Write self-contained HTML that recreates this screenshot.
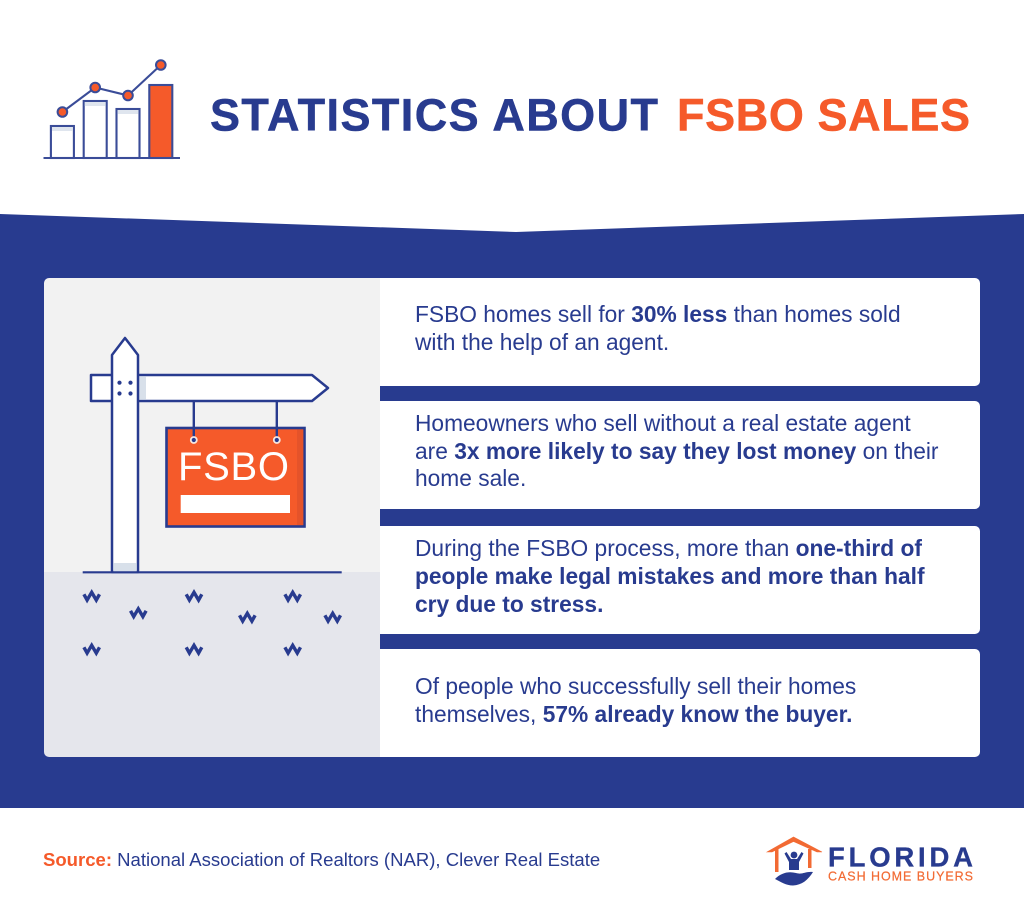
<!DOCTYPE html>
<html lang="en">
<head>
<meta charset="utf-8">
<title>Statistics About FSBO Sales</title>
<style>
html,body{margin:0;padding:0;background:#fff}
body{width:1024px;height:913px;overflow:hidden}
svg{display:block;font-family:"Liberation Sans",sans-serif}
.t{font-size:22.75px;fill:#283b8f}
.b{font-weight:700}
</style>
</head>
<body>
<svg id="root" width="1024" height="913" viewBox="0 0 1024 913" xmlns="http://www.w3.org/2000/svg">
  <rect width="1024" height="913" fill="#fff"/>
  <g id="icon"></g>
  <text x="210" y="130.5" font-size="45" font-weight="700" fill="#283b8f" stroke="#283b8f" stroke-width="0.5" textLength="448" lengthAdjust="spacing">STATISTICS ABOUT</text>
  <text x="677" y="130.5" font-size="45" font-weight="700" fill="#f55a2a" stroke="#f55a2a" stroke-width="0.5" textLength="293" lengthAdjust="spacing">FSBO SALES</text>

  <polygon points="0,214 516,232 1024,214 1024,808 0,808" fill="#283b8f"/>

  <path d="M380 278H49a5 5 0 0 0-5 5V572H380Z" fill="#f2f2f2"/>
  <path d="M44 572H380V757H49a5 5 0 0 1-5-5Z" fill="#e5e6ec"/>

  <g>
    <path d="M91 375H312L328 388L312 401H91Z" fill="#fff" stroke="#283b8f" stroke-width="2.5" stroke-linejoin="round"/>
    <rect x="139" y="376.3" width="7" height="23.4" fill="#d8e0ea"/>
    <path d="M112 572V355L125 338L138 355V572Z" fill="#fff" stroke="#283b8f" stroke-width="2.5" stroke-linejoin="round"/>
    <rect x="113.3" y="563" width="23.4" height="8.5" fill="#d8e0ea"/>
    <g fill="#283b8f">
      <circle cx="119.5" cy="382.7" r="2.1"/><circle cx="130.5" cy="382.7" r="2.1"/>
      <circle cx="119.5" cy="393.5" r="2.1"/><circle cx="130.5" cy="393.5" r="2.1"/>
    </g>
    <rect x="166.5" y="428" width="138" height="98.5" fill="#f55a2a" stroke="#283b8f" stroke-width="2.6"/>
    <rect x="297" y="429.5" width="6.3" height="95.5" fill="#e5532a"/>
    <g stroke="#283b8f" stroke-width="2.4">
      <line x1="193.8" y1="401" x2="193.8" y2="438"/><line x1="276.8" y1="401" x2="276.8" y2="438"/>
    </g>
    <g fill="#283b8f" stroke="#f7e6df" stroke-width="1.8">
      <circle cx="193.8" cy="440" r="3"/><circle cx="276.8" cy="440" r="3"/>
    </g>
    <text x="178" y="480" font-size="40" fill="#fff" textLength="111" lengthAdjust="spacing">FSBO</text>
    <rect x="180.7" y="495" width="109.3" height="18" fill="#fff"/>
  </g>
  <line x1="82.7" y1="572.3" x2="341.7" y2="572.3" stroke="#283b8f" stroke-width="2.2"/>

  <defs>
    <path id="grass" d="M-7.8 -2.2L-4.6 3.6L-2.6 0.2L0 -4.2L2.6 0.2L4.6 3.6L7.8 -2.2" fill="none" stroke="#283b8f" stroke-width="3.4" stroke-linejoin="miter"/>
  </defs>
  <g>
    <use href="#grass" x="91.7" y="596.5"/><use href="#grass" x="138.3" y="613"/><use href="#grass" x="194" y="596.5"/>
    <use href="#grass" x="247.3" y="617.5"/><use href="#grass" x="292.7" y="596.5"/><use href="#grass" x="332.7" y="617.5"/>
    <use href="#grass" x="91.7" y="649.5"/><use href="#grass" x="194" y="649.5"/><use href="#grass" x="292.7" y="649.5"/>
  </g>

  <path d="M380 278H975a5 5 0 0 1 5 5V381a5 5 0 0 1-5 5H380Z" fill="#fff"/>
  <path d="M380 401H975a5 5 0 0 1 5 5V504a5 5 0 0 1-5 5H380Z" fill="#fff"/>
  <path d="M380 526H975a5 5 0 0 1 5 5V629a5 5 0 0 1-5 5H380Z" fill="#fff"/>
  <path d="M380 649H975a5 5 0 0 1 5 5V752a5 5 0 0 1-5 5H380Z" fill="#fff"/>

  <g class="t">
    <text x="415" y="322">FSBO homes sell for <tspan class="b">30% less</tspan> than homes sold</text>
    <text x="415" y="350">with the help of an agent.</text>
  </g>
  <g class="t">
    <text x="415" y="431">Homeowners who sell without a real estate agent</text>
    <text x="415" y="459">are <tspan class="b">3x more likely to say they lost money</tspan> on their</text>
    <text x="415" y="486">home sale.</text>
  </g>
  <g class="t">
    <text x="415" y="556">During the FSBO process, more than <tspan class="b">one-third of</tspan></text>
    <text x="415" y="584" class="b">people make legal mistakes and more than half</text>
    <text x="415" y="612" class="b">cry due to stress.</text>
  </g>
  <g class="t">
    <text x="415" y="694">Of people who successfully sell their homes</text>
    <text x="415" y="722">themselves, <tspan class="b">57% already know the buyer.</tspan></text>
  </g>

  <text x="43" y="866" font-size="18.55" fill="#283b8f"><tspan font-weight="700" fill="#f55a2a">Source:</tspan> National Association of Realtors (NAR), Clever Real Estate</text>

  <g>
    <path d="M767 852L793.5 837L822 852H817L793.5 841.5L772 852Z" fill="#f26a33" stroke="#f26a33" stroke-width="0.6"/>
    <path d="M775 849H778.5V872H775ZM808 849H811.5V868H808Z" fill="#f26a33"/>
    <circle cx="794" cy="855" r="3.4" fill="#283b8f"/>
    <path d="M784.5 853.5L786.5 852L791 859H797L801.5 852L803.5 853.5L799 862V870H789V862Z" fill="#283b8f"/>
    <path d="M775 879C781 873 788 871 796 873C802 875 806 871 813 872C808 880 802 885 793 885.5C786 885.5 781 882 775 879Z" fill="#283b8f"/>
    <text x="828" y="866.5" font-size="27.5" font-weight="700" fill="#283b8f" stroke="#283b8f" stroke-width="0.3" textLength="145" lengthAdjust="spacing">FLORIDA</text>
    <text x="828" y="880.5" font-size="12.5" fill="#f26a33" stroke="#f26a33" stroke-width="0.2" textLength="145" lengthAdjust="spacing">CASH HOME BUYERS</text>
  </g>
</svg>
<script>
const barValues = [32, 57, 49, 73];
const lineValues = [46, 70.5, 62.5, 93];
const barFills = ['#fff', '#fff', '#fff', '#f55a2a'];

const NS = 'http://www.w3.org/2000/svg';
const icon = document.getElementById('icon');
const xAt = i => 62.4 + i * 32.8;
const yAt = v => 158 - v;
function mk(tag, attrs) {
  const el = document.createElementNS(NS, tag);
  for (const k in attrs) el.setAttribute(k, attrs[k]);
  icon.appendChild(el);
  return el;
}
barValues.forEach((v, i) => {
  const bar = mk('rect', {x: xAt(i) - 11.5, y: yAt(v), width: 23, height: v, fill: barFills[i], stroke: '#3a4c98', 'stroke-width': 2.1});
  
  
  if (i < 3) {
    const shade = mk('rect', {x: xAt(i) - 10.4, y: yAt(v) + 1, width: 20.8, height: 4, fill: '#dfe5ee'});
    
    
  }
});
const base = mk('line', {x1: 43.5, y1: 158, x2: 180, y2: 158, stroke: '#3a4c98', 'stroke-width': 2.1});


const trend = mk('polyline', {points: lineValues.map((v, i) => xAt(i) + ',' + yAt(v)).join(' '), fill: 'none', stroke: '#3a4c98', 'stroke-width': 2.1});


lineValues.forEach((v, i) => {
  const dot = mk('circle', {cx: xAt(i), cy: yAt(v), r: 4.8, fill: '#f55a2a', stroke: '#3a4c98', 'stroke-width': 2});
  
  
});
</script>
</body>
</html>
